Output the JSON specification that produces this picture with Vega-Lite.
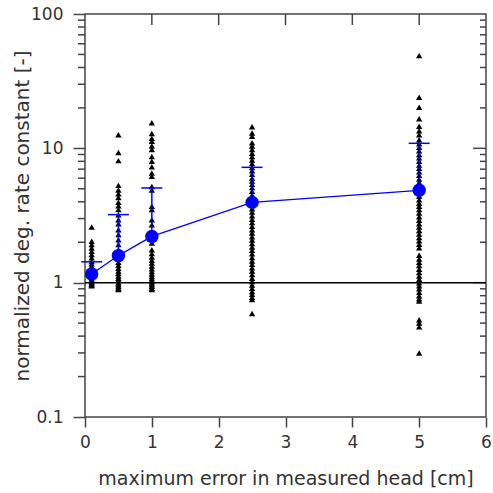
{
  "$schema": "https://vega.github.io/schema/vega-lite/v6.json",
  "width": 401,
  "height": 403,
  "autosize": {"type": "none"},
  "padding": {"left": 85, "top": 14, "right": 7, "bottom": 76},
  "background": "white",
  "config": {
    "view": {"stroke": "#444", "strokeWidth": 1.5},
    "axis": {"domain": false, "grid": false, "tickColor": "#444", "tickWidth": 1.5, "labelFont": "DejaVu Sans", "titleFont": "DejaVu Sans", "labelColor": "#333", "titleColor": "#333", "labelFontSize": 17, "titleFontSize": 19, "titleFontWeight": "normal"}
  },
  "datasets": {
    "pts": [
      {"x": 0.1, "v": 2.6}, {"x": 0.1, "v": 2.03}, {"x": 0.1, "v": 1.92}, {"x": 0.1, "v": 1.81}, {"x": 0.1, "v": 1.71}, {"x": 0.1, "v": 1.62}, {"x": 0.1, "v": 1.53}, {"x": 0.1, "v": 1.44}, {"x": 0.1, "v": 1.38}, {"x": 0.1, "v": 1.32}, {"x": 0.1, "v": 1.27}, {"x": 0.1, "v": 1.22}, {"x": 0.1, "v": 1.18}, {"x": 0.1, "v": 1.14}, {"x": 0.1, "v": 1.1}, {"x": 0.1, "v": 1.07}, {"x": 0.1, "v": 1.04}, {"x": 0.1, "v": 1.02}, {"x": 0.1, "v": 1.0}, {"x": 0.1, "v": 0.98}, {"x": 0.1, "v": 0.96}, {"x": 0.1, "v": 0.95},
      {"x": 0.5, "v": 12.6}, {"x": 0.5, "v": 9.3}, {"x": 0.5, "v": 8.1}, {"x": 0.5, "v": 5.3}, {"x": 0.5, "v": 4.9}, {"x": 0.5, "v": 4.6}, {"x": 0.5, "v": 4.3}, {"x": 0.5, "v": 3.96}, {"x": 0.5, "v": 3.74}, {"x": 0.5, "v": 3.5}, {"x": 0.5, "v": 3.2}, {"x": 0.5, "v": 2.94}, {"x": 0.5, "v": 2.74}, {"x": 0.5, "v": 2.48}, {"x": 0.5, "v": 2.28}, {"x": 0.5, "v": 2.09}, {"x": 0.5, "v": 1.92}, {"x": 0.5, "v": 1.75}, {"x": 0.5, "v": 1.6}, {"x": 0.5, "v": 1.5}, {"x": 0.5, "v": 1.42}, {"x": 0.5, "v": 1.35}, {"x": 0.5, "v": 1.28}, {"x": 0.5, "v": 1.22}, {"x": 0.5, "v": 1.17}, {"x": 0.5, "v": 1.12}, {"x": 0.5, "v": 1.08}, {"x": 0.5, "v": 1.04}, {"x": 0.5, "v": 1.0}, {"x": 0.5, "v": 0.97}, {"x": 0.5, "v": 0.94}, {"x": 0.5, "v": 0.91}, {"x": 0.5, "v": 0.89},
      {"x": 1, "v": 15.5}, {"x": 1, "v": 12.9}, {"x": 1, "v": 11.9}, {"x": 1, "v": 11.3}, {"x": 1, "v": 10.4}, {"x": 1, "v": 9.8}, {"x": 1, "v": 8.7}, {"x": 1, "v": 8.0}, {"x": 1, "v": 7.3}, {"x": 1, "v": 6.55}, {"x": 1, "v": 6.2}, {"x": 1, "v": 5.2}, {"x": 1, "v": 4.9}, {"x": 1, "v": 3.7}, {"x": 1, "v": 3.5}, {"x": 1, "v": 2.94}, {"x": 1, "v": 2.7}, {"x": 1, "v": 2.2}, {"x": 1, "v": 1.97}, {"x": 1, "v": 1.76}, {"x": 1, "v": 1.65}, {"x": 1, "v": 1.55}, {"x": 1, "v": 1.47}, {"x": 1, "v": 1.4}, {"x": 1, "v": 1.33}, {"x": 1, "v": 1.27}, {"x": 1, "v": 1.21}, {"x": 1, "v": 1.16}, {"x": 1, "v": 1.11}, {"x": 1, "v": 1.07}, {"x": 1, "v": 1.03}, {"x": 1, "v": 1.0}, {"x": 1, "v": 0.97}, {"x": 1, "v": 0.94}, {"x": 1, "v": 0.91}, {"x": 1, "v": 0.89},
      {"x": 2.5, "v": 14.5}, {"x": 2.5, "v": 13.0}, {"x": 2.5, "v": 12.3}, {"x": 2.5, "v": 11.0}, {"x": 2.5, "v": 10.4}, {"x": 2.5, "v": 9.8}, {"x": 2.5, "v": 9.2}, {"x": 2.5, "v": 8.7}, {"x": 2.5, "v": 8.2}, {"x": 2.5, "v": 7.7}, {"x": 2.5, "v": 7.2}, {"x": 2.5, "v": 6.8}, {"x": 2.5, "v": 6.4}, {"x": 2.5, "v": 6.0}, {"x": 2.5, "v": 5.7}, {"x": 2.5, "v": 5.4}, {"x": 2.5, "v": 5.1}, {"x": 2.5, "v": 4.8}, {"x": 2.5, "v": 4.5}, {"x": 2.5, "v": 4.2}, {"x": 2.5, "v": 4.0}, {"x": 2.5, "v": 3.8}, {"x": 2.5, "v": 3.55}, {"x": 2.5, "v": 3.35}, {"x": 2.5, "v": 3.15}, {"x": 2.5, "v": 2.97}, {"x": 2.5, "v": 2.8}, {"x": 2.5, "v": 2.63}, {"x": 2.5, "v": 2.48}, {"x": 2.5, "v": 2.34}, {"x": 2.5, "v": 2.2}, {"x": 2.5, "v": 2.08}, {"x": 2.5, "v": 1.96}, {"x": 2.5, "v": 1.84}, {"x": 2.5, "v": 1.74}, {"x": 2.5, "v": 1.64}, {"x": 2.5, "v": 1.54}, {"x": 2.5, "v": 1.45}, {"x": 2.5, "v": 1.37}, {"x": 2.5, "v": 1.29}, {"x": 2.5, "v": 1.22}, {"x": 2.5, "v": 1.15}, {"x": 2.5, "v": 1.08}, {"x": 2.5, "v": 1.02}, {"x": 2.5, "v": 0.96}, {"x": 2.5, "v": 0.91}, {"x": 2.5, "v": 0.86}, {"x": 2.5, "v": 0.82}, {"x": 2.5, "v": 0.78}, {"x": 2.5, "v": 0.75}, {"x": 2.5, "v": 0.59},
      {"x": 5, "v": 49}, {"x": 5, "v": 24}, {"x": 5, "v": 20.2}, {"x": 5, "v": 16.6}, {"x": 5, "v": 14.6}, {"x": 5, "v": 13.5}, {"x": 5, "v": 12.6}, {"x": 5, "v": 11.6}, {"x": 5, "v": 10.8}, {"x": 5, "v": 10.2}, {"x": 5, "v": 9.6}, {"x": 5, "v": 9.0}, {"x": 5, "v": 8.5}, {"x": 5, "v": 8.0}, {"x": 5, "v": 7.5}, {"x": 5, "v": 7.1}, {"x": 5, "v": 6.7}, {"x": 5, "v": 6.3}, {"x": 5, "v": 5.9}, {"x": 5, "v": 5.6}, {"x": 5, "v": 5.3}, {"x": 5, "v": 5.0}, {"x": 5, "v": 4.7}, {"x": 5, "v": 4.4}, {"x": 5, "v": 4.15}, {"x": 5, "v": 3.9}, {"x": 5, "v": 3.7}, {"x": 5, "v": 3.5}, {"x": 5, "v": 3.3}, {"x": 5, "v": 3.1}, {"x": 5, "v": 2.92}, {"x": 5, "v": 2.75}, {"x": 5, "v": 2.6}, {"x": 5, "v": 2.45}, {"x": 5, "v": 2.3}, {"x": 5, "v": 2.17}, {"x": 5, "v": 2.05}, {"x": 5, "v": 1.93}, {"x": 5, "v": 1.82}, {"x": 5, "v": 1.6}, {"x": 5, "v": 1.5}, {"x": 5, "v": 1.42}, {"x": 5, "v": 1.34}, {"x": 5, "v": 1.26}, {"x": 5, "v": 1.19}, {"x": 5, "v": 1.12}, {"x": 5, "v": 1.06}, {"x": 5, "v": 1.0}, {"x": 5, "v": 0.95}, {"x": 5, "v": 0.9}, {"x": 5, "v": 0.85}, {"x": 5, "v": 0.8}, {"x": 5, "v": 0.76}, {"x": 5, "v": 0.73}, {"x": 5, "v": 0.53}, {"x": 5, "v": 0.5}, {"x": 5, "v": 0.47}, {"x": 5, "v": 0.3}
    ],
    "means": [
      {"x": 0.1, "mean": 1.16, "upper": 1.43},
      {"x": 0.5, "mean": 1.59, "upper": 3.21},
      {"x": 1, "mean": 2.21, "upper": 5.07},
      {"x": 2.5, "mean": 3.96, "upper": 7.22},
      {"x": 5, "mean": 4.87, "upper": 10.9}
    ],
    "yminor": [
      {"v": 0.2}, {"v": 0.3}, {"v": 0.4}, {"v": 0.5}, {"v": 0.6}, {"v": 0.7}, {"v": 0.8}, {"v": 0.9},
      {"v": 2}, {"v": 3}, {"v": 4}, {"v": 5}, {"v": 6}, {"v": 7}, {"v": 8}, {"v": 9},
      {"v": 20}, {"v": 30}, {"v": 40}, {"v": 50}, {"v": 60}, {"v": 70}, {"v": 80}, {"v": 90}
    ],
    "ymajor": [{"v": 1}, {"v": 10}],
    "xmajor": [{"x": 1}, {"x": 2}, {"x": 3}, {"x": 4}, {"x": 5}]
  },
  "resolve": {"axis": {"x": "independent", "y": "independent"}},
  "layer": [
    {
      "data": {"name": "pts"},
      "mark": {"type": "point", "shape": "triangle-up", "filled": true, "color": "black", "opacity": 1, "size": 40},
      "encoding": {
        "x": {"field": "x", "type": "quantitative", "scale": {"domain": [0, 6], "nice": false}, "axis": {"orient": "bottom", "values": [0, 1, 2, 3, 4, 5, 6], "tickSize": 10, "labelPadding": 7, "title": "maximum error in measured head [cm]", "titleBaseline": "alphabetic", "titleY": 67, "labelFlush": false}},
        "y": {"field": "v", "type": "quantitative", "scale": {"type": "log", "domain": [0.1, 100]}, "axis": {"orient": "left", "values": [0.1, 1, 10, 100], "tickSize": 12, "labelExpr": "datum.value == 0.1 ? '0.1' : datum.value == 1 ? '1' : datum.value == 10 ? '10' : '100'", "labelOverlap": false, "labelPadding": 10, "labelFlush": false, "title": "normalized deg. rate constant [-]", "titleFontSize": 20, "titleBaseline": "alphabetic", "titleX": -57}}
      }
    },
    {
      "data": {"name": "yminor"},
      "mark": {"type": "tick", "orient": "horizontal", "color": "#444", "size": 7, "thickness": 1.5, "opacity": 1, "xOffset": -3.5},
      "encoding": {
        "x": {"datum": 0, "type": "quantitative", "scale": {"domain": [0, 6], "nice": false}, "axis": null},
        "y": {"field": "v", "type": "quantitative", "scale": {"type": "log", "domain": [0.1, 100]}, "axis": null}
      }
    },
    {
      "data": {"name": "yminor"},
      "mark": {"type": "tick", "orient": "horizontal", "color": "#444", "size": 6, "thickness": 1.5, "opacity": 1, "xOffset": -3},
      "encoding": {
        "x": {"datum": 6, "type": "quantitative", "scale": {"domain": [0, 6], "nice": false}, "axis": null},
        "y": {"field": "v", "type": "quantitative", "scale": {"type": "log", "domain": [0.1, 100]}, "axis": null}
      }
    },
    {
      "data": {"name": "ymajor"},
      "mark": {"type": "tick", "orient": "horizontal", "color": "#444", "size": 13, "thickness": 1.5, "opacity": 1, "xOffset": -6.5},
      "encoding": {
        "x": {"datum": 6, "type": "quantitative", "scale": {"domain": [0, 6], "nice": false}, "axis": null},
        "y": {"field": "v", "type": "quantitative", "scale": {"type": "log", "domain": [0.1, 100]}, "axis": null}
      }
    },
    {
      "data": {"name": "xmajor"},
      "mark": {"type": "tick", "orient": "vertical", "color": "#444", "size": 11, "thickness": 1.5, "opacity": 1, "yOffset": 5.5},
      "encoding": {
        "x": {"field": "x", "type": "quantitative", "scale": {"domain": [0, 6], "nice": false}, "axis": null},
        "y": {"datum": 100, "type": "quantitative", "scale": {"type": "log", "domain": [0.1, 100]}, "axis": null}
      }
    },
    {
      "data": {"name": "means"},
      "mark": {"type": "line", "color": "#0000ff", "strokeWidth": 1.2},
      "encoding": {
        "x": {"field": "x", "type": "quantitative", "scale": {"domain": [0, 6], "nice": false}, "axis": null},
        "y": {"field": "mean", "type": "quantitative", "scale": {"type": "log", "domain": [0.1, 100]}, "axis": null}
      }
    },
    {
      "data": {"name": "means"},
      "mark": {"type": "rule", "color": "#0000ff", "strokeWidth": 1.5},
      "encoding": {
        "x": {"field": "x", "type": "quantitative", "scale": {"domain": [0, 6], "nice": false}, "axis": null},
        "y": {"field": "mean", "type": "quantitative", "scale": {"type": "log", "domain": [0.1, 100]}, "axis": null},
        "y2": {"field": "upper"}
      }
    },
    {
      "data": {"name": "means"},
      "mark": {"type": "tick", "orient": "horizontal", "color": "#0000ff", "size": 21, "thickness": 1.5, "opacity": 1},
      "encoding": {
        "x": {"field": "x", "type": "quantitative", "scale": {"domain": [0, 6], "nice": false}, "axis": null},
        "y": {"field": "upper", "type": "quantitative", "scale": {"type": "log", "domain": [0.1, 100]}, "axis": null}
      }
    },
    {
      "data": {"name": "means"},
      "mark": {"type": "point", "shape": "circle", "filled": true, "color": "#0000ff", "opacity": 1, "size": 180},
      "encoding": {
        "x": {"field": "x", "type": "quantitative", "scale": {"domain": [0, 6], "nice": false}, "axis": null},
        "y": {"field": "mean", "type": "quantitative", "scale": {"type": "log", "domain": [0.1, 100]}, "axis": null}
      }
    },
    {
      "data": {"values": [{"one": 1}]},
      "mark": {"type": "rule", "color": "black", "strokeWidth": 1.5},
      "encoding": {
        "y": {"field": "one", "type": "quantitative", "scale": {"type": "log", "domain": [0.1, 100]}, "axis": null}
      }
    }
  ]
}
